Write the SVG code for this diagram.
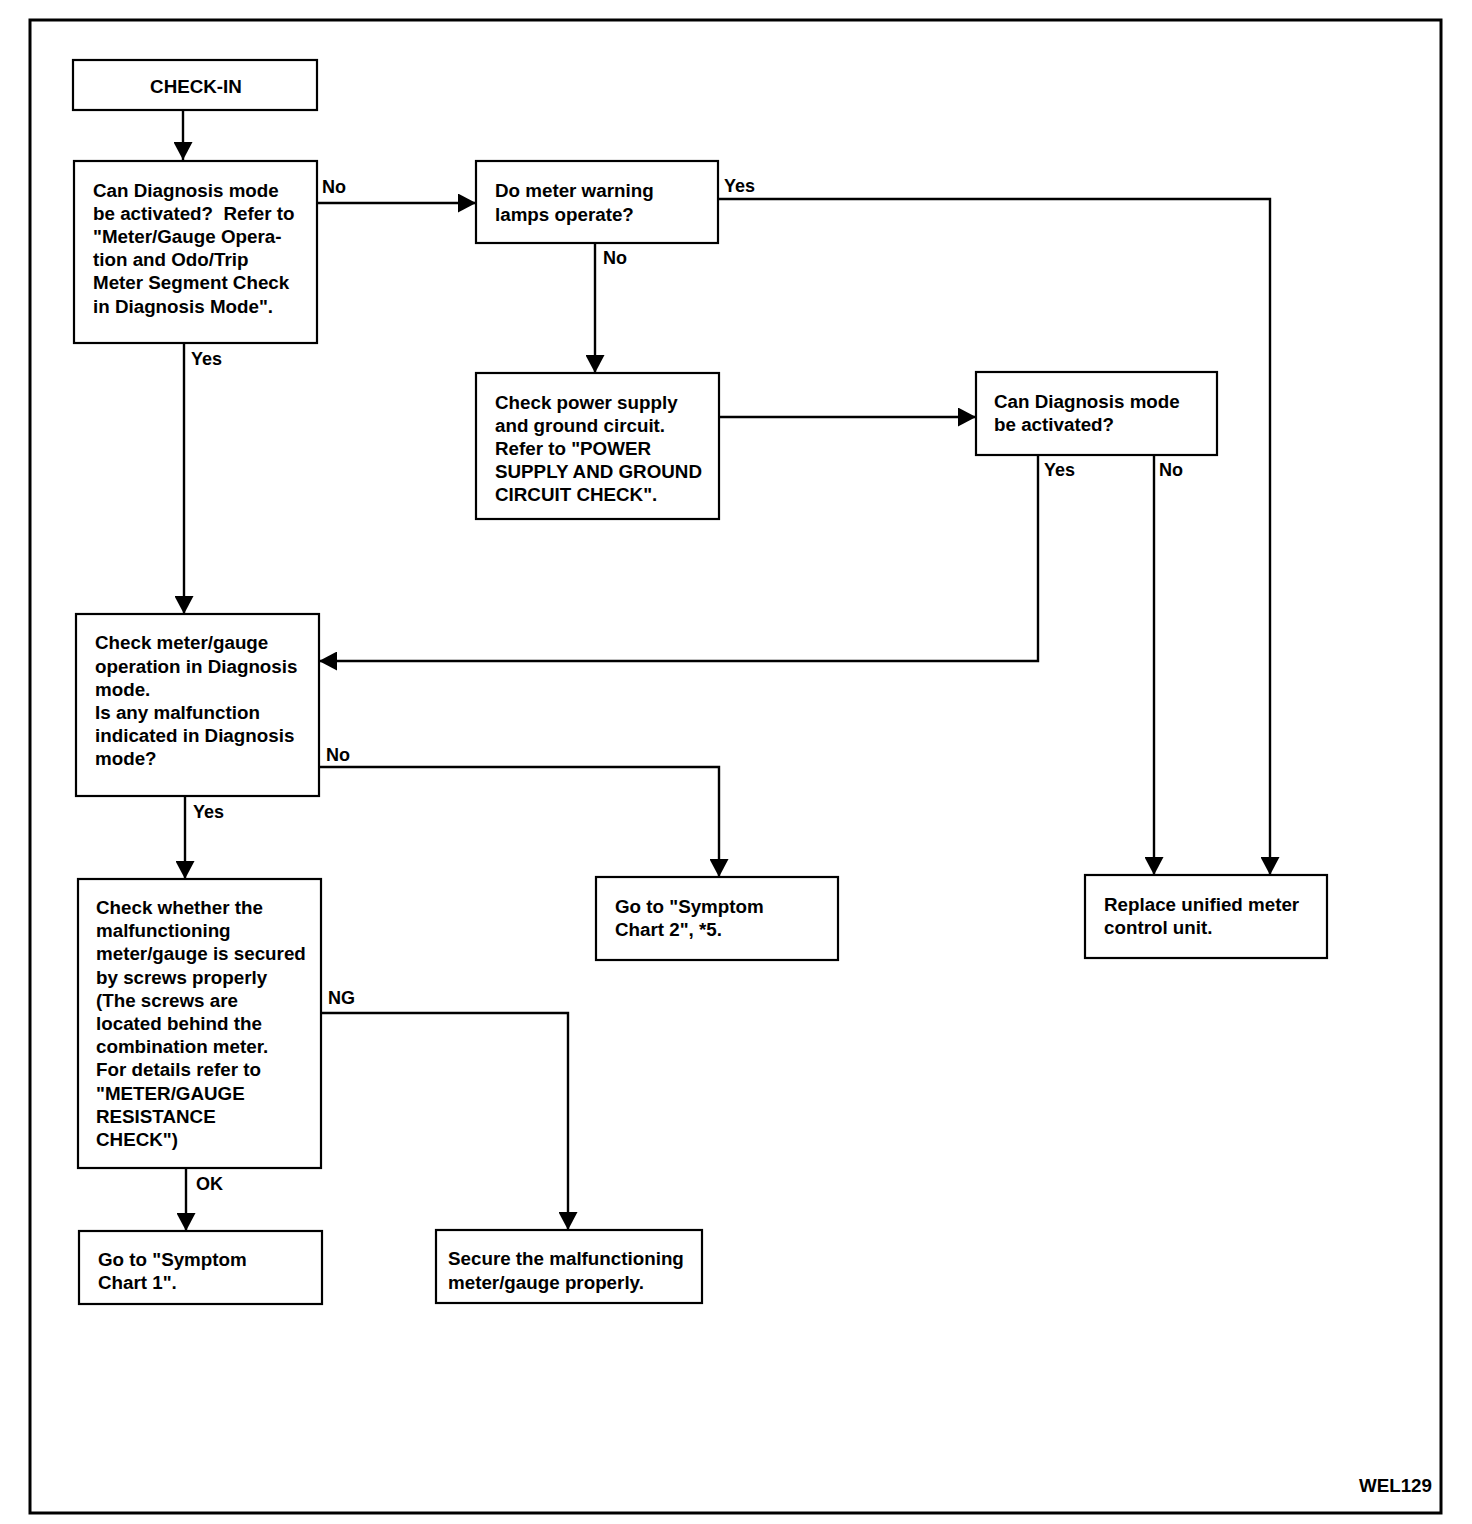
<svg xmlns="http://www.w3.org/2000/svg" width="1472" height="1524" viewBox="0 0 1472 1524">
<style>
.box{fill:#fff;stroke:#000;stroke-width:2.2}
.t{font-family:"Liberation Sans",Arial,sans-serif;font-weight:bold;font-size:18.8px;fill:#000}
.l{font-family:"Liberation Sans",Arial,sans-serif;font-weight:bold;font-size:18px;fill:#000}
.c{fill:none;stroke:#000;stroke-width:2.4}
</style>
<defs>
<marker id="ah" markerUnits="userSpaceOnUse" markerWidth="19" markerHeight="19" refX="18" refY="9.5" orient="auto" viewBox="0 0 19 19">
<path d="M0,0 L18,9.5 L0,19 Z" fill="#000"/>
</marker>
</defs>
<rect width="1472" height="1524" fill="#fff"/>
<rect id="frame" x="30" y="20" width="1411" height="1493" fill="none" stroke="#000" stroke-width="3"/>

<g id="connectors">
<path class="c" d="M183,110 V160" marker-end="url(#ah)"/>
<path class="c" d="M317,203 H476" marker-end="url(#ah)"/>
<path class="c" d="M184,343 V614" marker-end="url(#ah)"/>
<path class="c" d="M718,199 H1270 V875" marker-end="url(#ah)"/>
<path class="c" d="M595,243 V373" marker-end="url(#ah)"/>
<path class="c" d="M719,417 H976" marker-end="url(#ah)"/>
<path class="c" d="M1038,455 V661 H319" marker-end="url(#ah)"/>
<path class="c" d="M1154,455 V875" marker-end="url(#ah)"/>
<path class="c" d="M319,767 H719 V877" marker-end="url(#ah)"/>
<path class="c" d="M185,796 V879" marker-end="url(#ah)"/>
<path class="c" d="M321,1013 H568 V1230" marker-end="url(#ah)"/>
<path class="c" d="M186,1168 V1231" marker-end="url(#ah)"/>
<text class="l" x="322" y="193">No</text>
<text class="l" x="191" y="365">Yes</text>
<text class="l" x="724" y="192">Yes</text>
<text class="l" x="603" y="264">No</text>
<text class="l" x="1044" y="476">Yes</text>
<text class="l" x="1159" y="476">No</text>
<text class="l" x="326" y="761">No</text>
<text class="l" x="193" y="818">Yes</text>
<text class="l" x="328" y="1004">NG</text>
<text class="l" x="196" y="1190">OK</text>
</g>

<g id="checkin">
<rect class="box" x="73" y="60" width="244" height="50"/>
<text class="t" x="196" y="93" text-anchor="middle">CHECK-IN</text>
</g>

<g id="diag1">
<rect class="box" x="74" y="161" width="243" height="182"/>
<text class="t" x="93" y="197">Can Diagnosis mode</text>
<text class="t" x="93" y="220" xml:space="preserve">be activated?  Refer to</text>
<text class="t" x="93" y="243">"Meter/Gauge Opera-</text>
<text class="t" x="93" y="266">tion and Odo/Trip</text>
<text class="t" x="93" y="289">Meter Segment Check</text>
<text class="t" x="93" y="313">in Diagnosis Mode".</text>
</g>

<g id="lamps">
<rect class="box" x="476" y="161" width="242" height="82"/>
<text class="t" x="495" y="197">Do meter warning</text>
<text class="t" x="495" y="221">lamps operate?</text>
</g>

<g id="power">
<rect class="box" x="476" y="373" width="243" height="146"/>
<text class="t" x="495" y="409">Check power supply</text>
<text class="t" x="495" y="432">and ground circuit.</text>
<text class="t" x="495" y="455">Refer to "POWER</text>
<text class="t" x="495" y="478">SUPPLY AND GROUND</text>
<text class="t" x="495" y="501">CIRCUIT CHECK".</text>
</g>

<g id="diag2">
<rect class="box" x="976" y="372" width="241" height="83"/>
<text class="t" x="994" y="408">Can Diagnosis mode</text>
<text class="t" x="994" y="431">be activated?</text>
</g>

<g id="meter">
<rect class="box" x="76" y="614" width="243" height="182"/>
<text class="t" x="95" y="649">Check meter/gauge</text>
<text class="t" x="95" y="673">operation in Diagnosis</text>
<text class="t" x="95" y="696">mode.</text>
<text class="t" x="95" y="719">Is any malfunction</text>
<text class="t" x="95" y="742">indicated in Diagnosis</text>
<text class="t" x="95" y="765">mode?</text>
</g>

<g id="chart2">
<rect class="box" x="596" y="877" width="242" height="83"/>
<text class="t" x="615" y="913">Go to "Symptom</text>
<text class="t" x="615" y="936">Chart 2", *5.</text>
</g>

<g id="replace">
<rect class="box" x="1085" y="875" width="242" height="83"/>
<text class="t" x="1104" y="911">Replace unified meter</text>
<text class="t" x="1104" y="934">control unit.</text>
</g>

<g id="screws">
<rect class="box" x="78" y="879" width="243" height="289"/>
<text class="t" x="96" y="914">Check whether the</text>
<text class="t" x="96" y="937">malfunctioning</text>
<text class="t" x="96" y="960">meter/gauge is secured</text>
<text class="t" x="96" y="984">by screws properly</text>
<text class="t" x="96" y="1007">(The screws are</text>
<text class="t" x="96" y="1030">located behind the</text>
<text class="t" x="96" y="1053">combination meter.</text>
<text class="t" x="96" y="1076">For details refer to</text>
<text class="t" x="96" y="1100">"METER/GAUGE</text>
<text class="t" x="96" y="1123">RESISTANCE</text>
<text class="t" x="96" y="1146">CHECK")</text>
</g>

<g id="chart1">
<rect class="box" x="79" y="1231" width="243" height="73"/>
<text class="t" x="98" y="1266">Go to "Symptom</text>
<text class="t" x="98" y="1289">Chart 1".</text>
</g>

<g id="secure">
<rect class="box" x="436" y="1230" width="266" height="73"/>
<text class="t" x="448" y="1265">Secure the malfunctioning</text>
<text class="t" x="448" y="1289">meter/gauge properly.</text>
</g>

<text class="t" x="1432" y="1492" text-anchor="end">WEL129</text>
</svg>
